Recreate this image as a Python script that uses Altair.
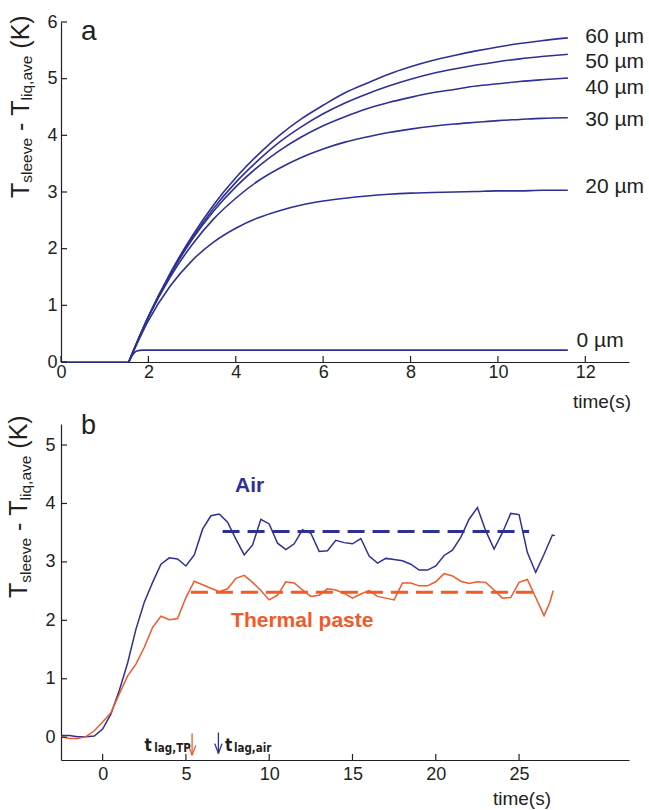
import altair as alt
import pandas as pd

BLUE = "#2e3192"
ORANGE = "#f15a29"
INK = "#231f20"
FONT = "Liberation Sans"

# ---------------- panel a data ----------------
a_base_t = [0, 1.55]
a_base_v = [0, 0]
a_t = [1.55, 2, 2.5, 3, 3.5, 4, 4.5, 5, 5.5, 6, 6.5, 7, 7.5, 8, 8.5, 9, 9.5, 10, 10.5, 11, 11.6]
a_60 = [0, 0.80, 1.57, 2.22, 2.78, 3.25, 3.65, 4.00, 4.29, 4.53, 4.75, 4.92, 5.08, 5.21,
        5.32, 5.41, 5.49, 5.56, 5.62, 5.67, 5.72]
a_50 = [0, 0.80, 1.55, 2.18, 2.72, 3.17, 3.55, 3.88, 4.15, 4.38, 4.57, 4.73, 4.87, 4.99,
        5.09, 5.17, 5.24, 5.30, 5.35, 5.39, 5.43]
a_40 = [0, 0.80, 1.54, 2.16, 2.67, 3.09, 3.44, 3.73, 3.97, 4.17, 4.33, 4.47, 4.58, 4.67,
        4.75, 4.81, 4.87, 4.91, 4.95, 4.98, 5.01]
a_30 = [0, 0.79, 1.50, 2.07, 2.53, 2.89, 3.19, 3.42, 3.61, 3.76, 3.88, 3.97, 4.05, 4.11,
        4.16, 4.20, 4.23, 4.26, 4.28, 4.30, 4.31]
a_20 = [0, 0.73, 1.34, 1.79, 2.12, 2.36, 2.54, 2.67, 2.77, 2.84, 2.89, 2.93, 2.96, 2.98,
        2.99, 3.00, 3.01, 3.02, 3.02, 3.03, 3.03]
a0_t = [1.55, 1.72, 1.87, 11.6]
a_0 = [0, 0.19, 0.21, 0.21]

a_labels = ["60 µm", "50 µm", "40 µm", "30 µm", "20 µm", "0 µm"]
a_label_t = [12.0, 12.0, 12.0, 12.0, 12.0, 11.8]
a_label_v = [5.75, 5.31, 4.86, 4.28, 3.11, 0.38]

a_xticks = [0, 2, 4, 6, 8, 10, 12]
a_yticks = [0, 1, 2, 3, 4, 5, 6]

# ---------------- panel b data ----------------
b_air = [0.03, 0.03, 0.01, 0.01, 0.02, 0.14, 0.40, 0.80, 1.27, 1.85,
         2.31, 2.65, 2.96, 3.07, 3.05, 2.93, 3.12, 3.56, 3.79, 3.82,
         3.68, 3.39, 3.12, 3.29, 3.73, 3.65, 3.32, 3.21, 3.31, 3.55,
         3.49, 3.18, 3.19, 3.37, 3.33, 3.31, 3.40, 3.10, 2.98, 3.06,
         3.04, 3.02, 2.96, 2.86, 2.86, 2.93, 3.11, 3.20, 3.42, 3.73,
         3.93, 3.53, 3.22, 3.50, 3.83, 3.81, 3.16, 2.82, 3.13, 3.46, 3.45]
b_air_t = [-2.5 + 0.5 * i for i in range(60)] + [27.15]

b_tp = [0.01, -0.02, -0.02, 0.01, 0.11, 0.26, 0.42, 0.74, 1.05, 1.25,
        1.54, 1.88, 2.07, 2.01, 2.03, 2.39, 2.67, 2.61, 2.55, 2.49,
        2.54, 2.72, 2.77, 2.65, 2.51, 2.35, 2.43, 2.66, 2.64, 2.52,
        2.41, 2.43, 2.54, 2.52, 2.46, 2.38, 2.45, 2.51, 2.41, 2.38,
        2.35, 2.64, 2.64, 2.59, 2.59, 2.66, 2.80, 2.76, 2.67, 2.63,
        2.66, 2.65, 2.52, 2.38, 2.39, 2.65, 2.70, 2.39, 2.08, 2.31, 2.51]
b_tp_t = [-2.5 + 0.5 * i for i in range(59)] + [26.85, 27.05]

b_mean_series = ["Air", "Thermal paste"]
b_mean_v = [3.52, 2.48]
b_mean_t1 = [7.2, 5.3]
b_mean_t2 = [25.6, 25.9]

b_lag_names = ["TP", "air"]
b_lag_t = [5.37, 6.95]

b_xticks = [0, 5, 10, 15, 20, 25]
b_yticks = [0, 1, 2, 3, 4, 5]

# ---------------- helpers ----------------
W = {'T': 0.611, 's': 0.5, 'l': 0.222, 'e': 0.556, 'v': 0.5, ' ': 0.278,
     '-': 0.333, 'i': 0.222, 'q': 0.556, ',': 0.278, 'a': 0.556,
     '(': 0.333, 'K': 0.667, ')': 0.333}


def tw(text, fs):
    return sum(W.get(c, 0.55) for c in text) * fs


def ytitle_df(x_main, x_sub, y_start, big, small):
    pieces = [("T", False), ("sleeve", True), (" ", False), ("-", False), (" ", False),
              ("T", False), ("liq,ave", True), (" ", False), ("(K)", False)]
    rows = []
    y = y_start
    for text, sub in pieces:
        fs = small if sub else big
        if text.strip():
            rows.append({"text": text, "px": x_sub if sub else x_main, "py": y, "fs": fs})
        y -= tw(text, fs)
    return pd.DataFrame(rows)


def ytitle_layer(df):
    return alt.Chart(df).mark_text(angle=270, align="left", baseline="alphabetic",
                                   font=FONT, color=INK).encode(
        x=alt.X("px:Q", scale=None, axis=None),
        y=alt.Y("py:Q", scale=None, axis=None),
        size=alt.Size("fs:Q", scale=None, legend=None),
        text="text:N")


def text_at(txt, px, py, fs, align="left", weight="normal", color=INK):
    return alt.Chart(pd.DataFrame({"text": [txt]})).mark_text(
        align=align, baseline="alphabetic", font=FONT, fontSize=fs,
        fontWeight=weight, color=color).encode(
        x=alt.value(px), y=alt.value(py), text="text:N")


# ---------------- panel a ----------------
WA, HA = 568, 340
xa = dict(scale=alt.Scale(domain=[0, 13], nice=False, zero=False),
          axis=alt.Axis(values=a_xticks, title=None, ticks=False, grid=False,
                        labelPadding=1, labelFlush=False, labelOverlap=False,
                        domainColor=INK, domainWidth=1.2, labelColor=INK,
                        labelFontSize=18, labelFont=FONT))
ya = dict(scale=alt.Scale(domain=[0, 6], nice=False, zero=False),
          axis=alt.Axis(values=a_yticks, title=None, ticks=False, grid=False,
                        labelPadding=4, labelFlush=False, labelOverlap=False,
                        domainColor=INK, domainWidth=1.2, labelColor=INK,
                        labelFontSize=18, labelFont=FONT))

rows = []
for name, vals in [("60", a_60), ("50", a_50), ("40", a_40), ("30", a_30), ("20", a_20)]:
    for t, v in zip(a_t, vals):
        rows.append({"t": t, "v": v, "s": name})
for t, v in zip(a0_t, a_0):
    rows.append({"t": t, "v": v, "s": "0"})
df_a = pd.DataFrame(rows)
df_base = pd.DataFrame({"t": a_base_t, "v": a_base_v})

base_a = alt.Chart(df_base).mark_line(color=BLUE, strokeWidth=1.6).encode(
    x=alt.X("t:Q", **xa), y=alt.Y("v:Q", **ya))
curves_a = alt.Chart(df_a).mark_line(color=BLUE, strokeWidth=1.6, interpolate="monotone").encode(
    x=alt.X("t:Q", **xa), y=alt.Y("v:Q", **ya), detail="s:N")
labels_a = alt.Chart(pd.DataFrame({"t": a_label_t, "v": a_label_v, "text": a_labels})).mark_text(
    align="left", baseline="middle", dy=1, font=FONT, fontSize=21, color=INK).encode(
    x=alt.X("t:Q", **xa), y=alt.Y("v:Q", **ya), text="text:N")
xt_a = alt.Chart(pd.DataFrame({"t": a_xticks})).mark_rule(color=INK, strokeWidth=1.2).encode(
    x=alt.X("t:Q", **xa), y=alt.value(HA), y2=alt.value(HA - 6))
yt_a = alt.Chart(pd.DataFrame({"v": a_yticks})).mark_rule(color=INK, strokeWidth=1.2).encode(
    y=alt.Y("v:Q", **ya), x=alt.value(0), x2=alt.value(6))

panel_a = alt.layer(
    base_a, curves_a, labels_a, xt_a, yt_a,
    ytitle_layer(ytitle_df(-32, -28.7, 176, 25, 15.5)),
    text_at("a", 20, 18, 28),
    text_at("time(s)", 570, 386, 19, align="right"),
).properties(width=WA, height=HA)

# ---------------- panel b ----------------
WB, HB = 568, 336
xb = dict(scale=alt.Scale(domain=[-2.5, 31.6], nice=False, zero=False),
          axis=alt.Axis(values=b_xticks, title=None, ticks=False, grid=False,
                        labelPadding=5, labelFlush=False, labelOverlap=False,
                        domainColor=INK, domainWidth=1.2, labelColor=INK,
                        labelFontSize=18, labelFont=FONT))
yb = dict(scale=alt.Scale(domain=[-0.39, 5.36], nice=False, zero=False),
          axis=alt.Axis(values=b_yticks, title=None, ticks=False, grid=False,
                        labelPadding=6, labelFlush=False, labelOverlap=False,
                        domainColor=INK, domainWidth=1.2, labelColor=INK,
                        labelFontSize=18, labelFont=FONT))

df_air = pd.DataFrame({"t": b_air_t, "v": b_air})
df_tp = pd.DataFrame({"t": b_tp_t, "v": b_tp})
air_line = alt.Chart(df_air).mark_line(color=BLUE, strokeWidth=1.5).encode(
    x=alt.X("t:Q", **xb), y=alt.Y("v:Q", **yb))
tp_line = alt.Chart(df_tp).mark_line(color=ORANGE, strokeWidth=1.5).encode(
    x=alt.X("t:Q", **xb), y=alt.Y("v:Q", **yb))

df_mean = pd.DataFrame({"s": b_mean_series, "v": b_mean_v, "t": b_mean_t1, "t2": b_mean_t2})
mean_rules = alt.Chart(df_mean).mark_rule(strokeWidth=3, strokeDash=[17, 8]).encode(
    x=alt.X("t:Q", **xb), x2="t2:Q", y=alt.Y("v:Q", **yb),
    color=alt.Color("s:N", scale=alt.Scale(domain=b_mean_series, range=[BLUE, ORANGE]), legend=None))

ann_b = pd.DataFrame({"text": ["Air", "Thermal paste"], "t": [8.82, 7.71], "v": [4.20, 1.88]})
air_txt = alt.Chart(ann_b.iloc[[0]]).mark_text(
    align="center", baseline="alphabetic", font=FONT, fontSize=21, fontWeight="bold", color=BLUE).encode(
    x=alt.X("t:Q", **xb), y=alt.Y("v:Q", **yb), text="text:N")
tp_txt = alt.Chart(ann_b.iloc[[1]]).mark_text(
    align="left", baseline="alphabetic", font=FONT, fontSize=21, fontWeight="bold", color=ORANGE).encode(
    x=alt.X("t:Q", **xb), y=alt.Y("v:Q", **yb), text="text:N")

# arrows marking the lag times
arrow_rows = []
for name, t0, col, vtop, vtip in [("TP", b_lag_t[0], ORANGE, 0.063, -0.31),
                                  ("air", b_lag_t[1], BLUE, 0.08, -0.28)]:
    arrow_rows.append({"t": t0, "t2": t0, "v": vtop, "v2": vtip, "c": col})
    arrow_rows.append({"t": t0 - 0.22, "t2": t0, "v": vtip + 0.17, "v2": vtip, "c": col})
    arrow_rows.append({"t": t0 + 0.22, "t2": t0, "v": vtip + 0.17, "v2": vtip, "c": col})
arrows = alt.Chart(pd.DataFrame(arrow_rows)).mark_rule(strokeWidth=1.3).encode(
    x=alt.X("t:Q", **xb), x2="t2:Q", y=alt.Y("v:Q", **yb), y2="v2:Q",
    color=alt.Color("c:N", scale=None))

lag_df = pd.DataFrame({
    "text": ["t", "lag,TP", "t", "lag,air"],
    "t": [2.52, 3.10, 7.34, 7.88],
    "v": [-0.24, -0.26, -0.24, -0.26],
    "fs": [17, 11.5, 17, 11.5],
})
lag_txt = alt.Chart(lag_df).mark_text(
    align="left", baseline="alphabetic",
    font="Liberation Sans Narrow, DejaVu Sans Condensed, Liberation Sans",
    fontWeight="bold", color=INK).encode(
    x=alt.X("t:Q", **xb), y=alt.Y("v:Q", **yb), text="text:N",
    size=alt.Size("fs:Q", scale=None, legend=None))

xt_b = alt.Chart(pd.DataFrame({"t": b_xticks})).mark_rule(color=INK, strokeWidth=1.2).encode(
    x=alt.X("t:Q", **xb), y=alt.value(HB), y2=alt.value(HB - 6))
yt_b = alt.Chart(pd.DataFrame({"v": b_yticks})).mark_rule(color=INK, strokeWidth=1.2).encode(
    y=alt.Y("v:Q", **yb), x=alt.value(0), x2=alt.value(6))

panel_b = alt.layer(
    air_line, tp_line, mean_rules, air_txt, tp_txt, arrows, lag_txt, xt_b, yt_b,
    ytitle_layer(ytitle_df(-33.7, -30.4, 174, 25, 15.5)),
    text_at("b", 20, 10, 27),
    text_at("time(s)", 490, 381, 19, align="right"),
).properties(width=WB, height=HB)

chart = alt.vconcat(panel_a, panel_b, spacing=62, bounds="flush").properties(
    padding={"left": 6, "top": 12, "right": 0, "bottom": 0}
).configure_view(stroke="transparent")

chart.save("out.html", embed_options={"renderer": "svg", "actions": False})
